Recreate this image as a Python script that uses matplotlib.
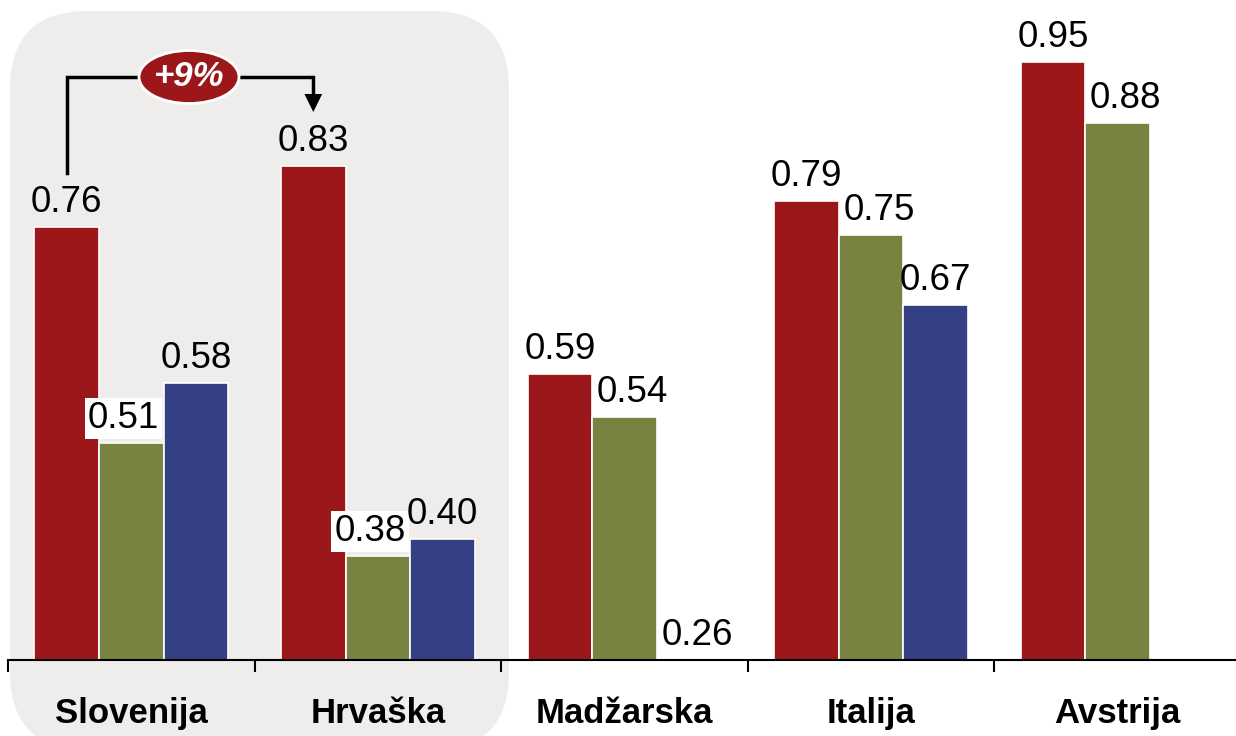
import matplotlib
matplotlib.use("Agg")
import matplotlib.pyplot as plt
import numpy as np
from matplotlib.patches import FancyBboxPatch, Ellipse, Polygon
from matplotlib.transforms import IdentityTransform, blended_transform_factory

plt.rcParams['font.family'] = ['Liberation Sans', 'DejaVu Sans']

countries = ["Slovenija", "Hrvaška", "Madžarska", "Italija", "Avstrija"]
series_a = [0.76, 0.83, 0.59, 0.79, 0.95]
series_b = [0.51, 0.38, 0.54, 0.75, 0.88]
series_c = [0.58, 0.40, 0.26, 0.67, None]

colors = ["#9B1719", "#788241", "#353F84"]
panel_color = "#EEEDEB"

W, H, DPI = 1236, 736, 100
fig = plt.figure(figsize=(W / DPI, H / DPI), dpi=DPI)

# rounded background panel behind the first two countries (pixel coordinates)
panel = FancyBboxPatch((10, H - 750), 499, 739,
                       boxstyle="round,pad=0,rounding_size=78",
                       transform=IdentityTransform(), facecolor=panel_color,
                       edgecolor="none", zorder=-5)
fig.patches.append(panel)

ax_left, ax_right, ax_bottom = 8, 1241, 660
ax = fig.add_axes([ax_left / W, (H - ax_bottom) / H,
                   (ax_right - ax_left) / W, ax_bottom / H])
ax.set_zorder(1)
ax.patch.set_alpha(0)

all_vals = [v for s in (series_a, series_b, series_c) for v in s if v is not None]
ymin = min(all_vals)
px_per_unit = (660 - 62) / (max(all_vals) - ymin)
ymax = max(all_vals) + 62 / px_per_unit
ax.set_ylim(ymin, ymax)
ax.set_xlim(-0.5, len(countries) - 0.5)

x = np.arange(len(countries))
bw = 0.262
offsets = [-bw, 0, bw]
series = [series_a, series_b, series_c]

label_pt = 26.5
px = 72 / DPI  # points per pixel
for si, (vals, off, col) in enumerate(zip(series, offsets, colors)):
    for ci, v in enumerate(vals):
        if v is None:
            continue
        xc = x[ci] + off
        ax.bar(xc, v - ymin, bottom=ymin, width=bw, color=col,
               edgecolor="white", linewidth=1.2, zorder=2)
        dx = 0
        box = None
        if si == 1:
            if ci < 2:
                dx = -8
                box = dict(boxstyle="square,pad=0.08", facecolor="white",
                           edgecolor="none")
            else:
                dx = 8
        if si == 2 and ci == 2:
            dx = 8
        ax.annotate(f"{v:.2f}", (xc, v), xytext=(dx * px, 15 * px),
                    textcoords="offset points", ha="center", va="baseline",
                    fontsize=label_pt, color="black", bbox=box, zorder=4)

# axis styling
for s in ["top", "right", "left"]:
    ax.spines[s].set_visible(False)
ax.spines["bottom"].set_linewidth(1.5)
ax.spines["bottom"].set_zorder(5)
ax.set_yticks([])
ax.set_xticks(x)
ax.set_xticklabels(countries, fontsize=25, fontweight="bold")
ax.tick_params(axis="x", which="major", length=0, pad=37 * px)
ax.set_xticks(np.arange(len(countries) + 1) - 0.5, minor=True)
ax.tick_params(axis="x", which="minor", length=12 * px, width=1.5,
               direction="out")

# growth bracket between the first two red bars
growth = (series_a[1] - series_a[0]) / series_a[0] * 100
tr = blended_transform_factory(ax.transData, ax.transAxes)
x0, x1 = x[0] + offsets[0], x[1] + offsets[0]
y_low = (660 - 173) / 660
y_top = (660 - 77) / 660
y_arrow = (660 - 94) / 660
y_tip = (660 - 112) / 660
ax.plot([x0, x0, x1, x1], [y_low, y_top, y_top, y_arrow], transform=tr,
        color="black", lw=2.5, solid_joinstyle="miter", clip_on=False,
        zorder=6)
hw = 0.036
ax.add_patch(Polygon([[x1 - hw, y_arrow], [x1 + hw, y_arrow], [x1, y_tip]],
                     closed=True, transform=tr, facecolor="black",
                     edgecolor="none", clip_on=False, zorder=6))
ecx = 189
ell = Ellipse((ecx, H - 77), 100, 53, transform=IdentityTransform(),
              facecolor=colors[0], edgecolor="white", linewidth=2, zorder=7)
fig.patches.append(ell)
fig.text(ecx / W, (H - 77) / H, f"+{growth:.0f}%", ha="center", va="center",
         fontsize=25, fontweight="bold", fontstyle="italic", color="white",
         zorder=8)

fig.savefig("out.png", dpi=DPI)
